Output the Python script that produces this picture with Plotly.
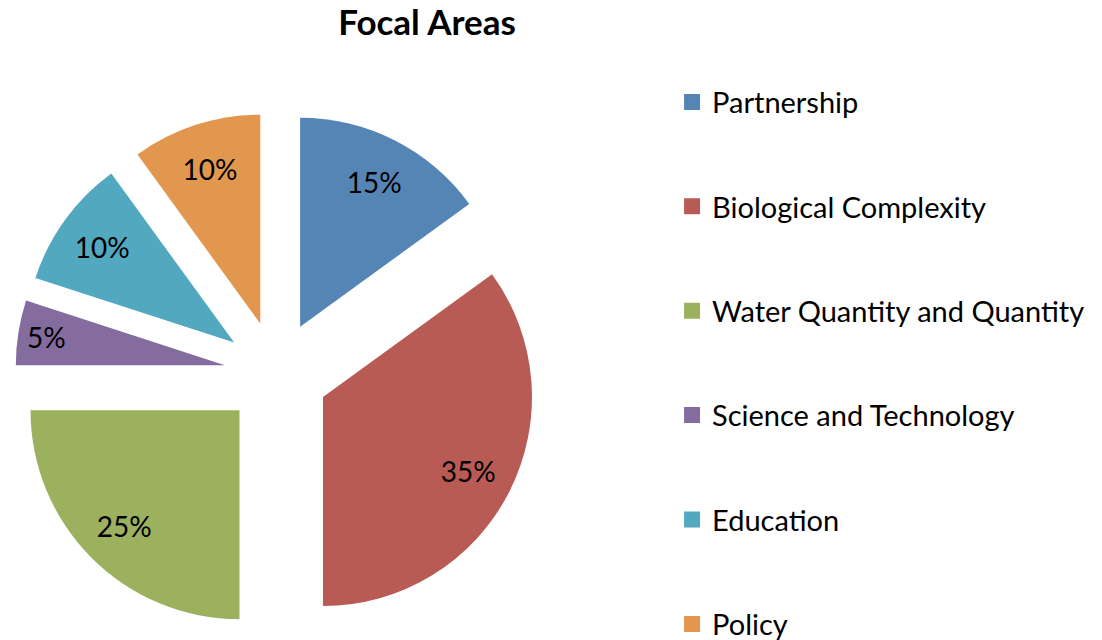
import plotly.graph_objects as go

# ---- data ----
categories = ["Partnership", "Biological Complexity", "Water Quantity and Quantity",
              "Science and Technology", "Education", "Policy"]
shares = [15, 35, 25, 5, 10, 10]
colors = ["#5585B5", "#B95B55", "#9BB15E", "#846C9E", "#51A8BF", "#E2974F"]
title_text = "Focal Areas"

# ---- styling ----
FONT = "Lato"
W, H = 1102, 640
pull_fraction = 0.25
domain_x = [0.00654, 0.48064]
domain_y = [0.0210, 0.8374]
legend_font = 29
legend_gap = 104.4 - (legend_font * 1.3 + 3)

fig = go.Figure()

# exploded pie (slices)
fig.add_trace(go.Pie(
    labels=categories, values=shares, sort=False, direction="clockwise", rotation=0,
    marker=dict(colors=colors, line=dict(width=0)),
    pull=[pull_fraction] * len(shares),
    textinfo="none", domain=dict(x=domain_x, y=domain_y),
    showlegend=False, hoverinfo="label+percent",
))

# transparent ring on top carrying the percentage labels
fig.add_trace(go.Pie(
    labels=categories, values=shares, sort=False, direction="clockwise", rotation=0,
    hole=0.56,
    marker=dict(colors=["rgba(0,0,0,0)"] * len(shares), line=dict(width=0)),
    pull=[pull_fraction] * len(shares),
    textinfo="percent", textposition="inside", insidetextorientation="horizontal",
    insidetextfont=dict(family=FONT, size=28, color="black"),
    domain=dict(x=domain_x, y=domain_y),
    showlegend=False, hoverinfo="skip",
))

# legend entries
for name, col in zip(categories, colors):
    fig.add_trace(go.Scatter(
        x=[None], y=[None], mode="markers", name=name, legendgroup=name,
        marker=dict(symbol="square", size=16, color=col),
        showlegend=True, hoverinfo="skip",
    ))

fig.update_layout(
    width=W, height=H,
    margin=dict(l=0, r=0, t=0, b=0, autoexpand=False),
    paper_bgcolor="white", plot_bgcolor="white",
    title=dict(text="<b>" + title_text + "</b>", x=0.3802, xanchor="center",
               y=1 - 15 / 640, yanchor="middle",
               font=dict(family=FONT, size=35, color="black")),
    showlegend=True,
    legend=dict(x=0.6026, xanchor="left", y=0.8929, yanchor="top",
                traceorder="grouped", tracegroupgap=legend_gap, maxheight=640,
                font=dict(family=FONT, size=legend_font, color="black"),
                bgcolor="rgba(0,0,0,0)"),
    xaxis=dict(visible=False), yaxis=dict(visible=False),
)

fig.write_html("out.html")
